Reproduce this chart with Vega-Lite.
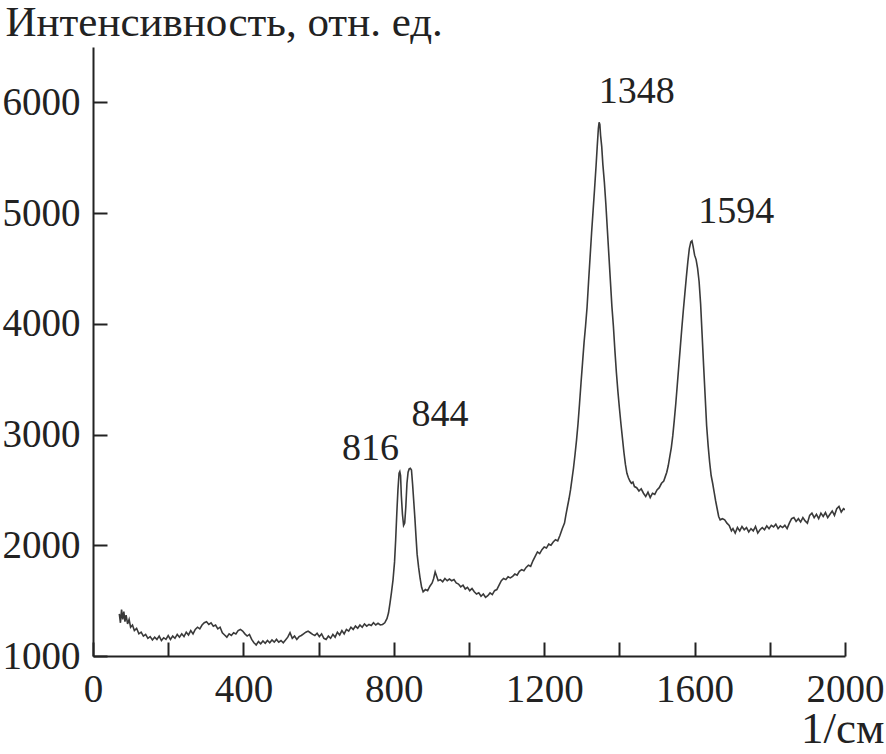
{
  "$schema": "https://vega.github.io/schema/vega-lite/v6.json",
  "width": 752,
  "height": 609,
  "autosize": {"type": "none"},
  "padding": {"left": 93, "top": 47, "right": 41, "bottom": 98},
  "background": "white",
  "config": {
    "view": {"stroke": null},
    "font": "Liberation Serif",
    "axis": {
      "grid": false,
      "domainColor": "#222",
      "domainWidth": 2,
      "tickColor": "#222",
      "tickWidth": 2,
      "tickSize": -14,
      "labelFont": "Liberation Serif",
      "labelFontSize": 39,
      "labelColor": "#222",
      "titleFont": "Liberation Serif",
      "titleFontWeight": "normal",
      "titleColor": "#222"
    }
  },
  "datasets": {
    "spectrum": [
      {"x":70,"y":1380},{"x":73,"y":1300},{"x":76,"y":1420},{"x":79,"y":1330},{"x":82,"y":1400},{"x":85,"y":1310},{"x":88,"y":1370},{"x":92,"y":1290},{"x":96,"y":1330},{"x":100,"y":1260},
      {"x":105,"y":1280},{"x":110,"y":1230},{"x":116,"y":1250},{"x":122,"y":1200},{"x":128,"y":1215},{"x":134,"y":1180},{"x":140,"y":1195},{"x":146,"y":1160},{"x":152,"y":1175},{"x":158,"y":1145},
      {"x":164,"y":1170},{"x":170,"y":1150},{"x":176,"y":1180},{"x":182,"y":1140},{"x":188,"y":1165},{"x":194,"y":1150},{"x":200,"y":1185},{"x":206,"y":1150},{"x":212,"y":1180},{"x":218,"y":1160},
      {"x":224,"y":1195},{"x":230,"y":1170},{"x":236,"y":1200},{"x":242,"y":1175},{"x":248,"y":1215},{"x":254,"y":1190},{"x":260,"y":1230},{"x":266,"y":1200},{"x":272,"y":1240},{"x":278,"y":1260},
      {"x":284,"y":1245},{"x":290,"y":1280},{"x":296,"y":1300},{"x":302,"y":1310},{"x":308,"y":1285},{"x":314,"y":1300},{"x":320,"y":1270},{"x":326,"y":1280},{"x":332,"y":1245},{"x":338,"y":1260},
      {"x":344,"y":1210},{"x":350,"y":1190},{"x":356,"y":1170},{"x":362,"y":1200},{"x":368,"y":1185},{"x":374,"y":1210},{"x":380,"y":1200},{"x":386,"y":1230},{"x":392,"y":1240},{"x":398,"y":1225},
      {"x":404,"y":1200},{"x":410,"y":1180},{"x":416,"y":1195},{"x":422,"y":1150},{"x":428,"y":1120},{"x":434,"y":1100},{"x":440,"y":1130},{"x":446,"y":1110},{"x":452,"y":1135},{"x":458,"y":1115},
      {"x":464,"y":1140},{"x":470,"y":1120},{"x":476,"y":1145},{"x":482,"y":1125},{"x":488,"y":1150},{"x":494,"y":1125},{"x":500,"y":1140},{"x":506,"y":1120},{"x":512,"y":1145},{"x":518,"y":1170},
      {"x":524,"y":1210},{"x":530,"y":1160},{"x":536,"y":1180},{"x":542,"y":1150},{"x":548,"y":1175},{"x":554,"y":1185},{"x":560,"y":1200},{"x":566,"y":1215},{"x":572,"y":1225},{"x":578,"y":1210},
      {"x":584,"y":1195},{"x":590,"y":1185},{"x":596,"y":1205},{"x":602,"y":1175},{"x":608,"y":1200},{"x":614,"y":1160},{"x":620,"y":1150},{"x":626,"y":1180},{"x":632,"y":1160},{"x":638,"y":1195},
      {"x":644,"y":1170},{"x":650,"y":1215},{"x":656,"y":1190},{"x":662,"y":1230},{"x":668,"y":1200},{"x":674,"y":1240},{"x":680,"y":1225},{"x":686,"y":1260},{"x":692,"y":1240},{"x":698,"y":1270},
      {"x":704,"y":1250},{"x":710,"y":1280},{"x":716,"y":1260},{"x":722,"y":1290},{"x":728,"y":1270},{"x":734,"y":1285},{"x":740,"y":1275},{"x":746,"y":1300},{"x":752,"y":1280},{"x":758,"y":1295},
      {"x":764,"y":1280},{"x":770,"y":1285},{"x":776,"y":1300},{"x":782,"y":1340},{"x":786,"y":1390},{"x":790,"y":1480},{"x":794,"y":1580},{"x":798,"y":1690},{"x":802,"y":1850},{"x":805,"y":2050},
      {"x":808,"y":2290},{"x":811,"y":2500},{"x":814,"y":2650},{"x":816,"y":2665},{"x":818,"y":2630},{"x":820,"y":2450},{"x":823,"y":2280},{"x":826,"y":2180},{"x":829,"y":2200},{"x":832,"y":2350},
      {"x":835,"y":2560},{"x":838,"y":2660},{"x":841,"y":2690},{"x":844,"y":2695},{"x":847,"y":2680},{"x":850,"y":2550},{"x":853,"y":2400},{"x":856,"y":2250},{"x":859,"y":2080},{"x":862,"y":1920},
      {"x":866,"y":1800},{"x":870,"y":1700},{"x":874,"y":1620},{"x":878,"y":1580},{"x":884,"y":1600},{"x":890,"y":1590},{"x":896,"y":1630},{"x":902,"y":1660},{"x":906,"y":1700},{"x":910,"y":1760},
      {"x":914,"y":1720},{"x":918,"y":1680},{"x":924,"y":1690},{"x":930,"y":1670},{"x":936,"y":1700},{"x":942,"y":1680},{"x":948,"y":1695},{"x":954,"y":1680},{"x":960,"y":1690},{"x":966,"y":1660},
      {"x":972,"y":1650},{"x":978,"y":1625},{"x":984,"y":1640},{"x":990,"y":1605},{"x":996,"y":1620},{"x":1002,"y":1590},{"x":1008,"y":1610},{"x":1014,"y":1580},{"x":1020,"y":1560},{"x":1026,"y":1570},
      {"x":1032,"y":1540},{"x":1038,"y":1560},{"x":1044,"y":1530},{"x":1050,"y":1545},{"x":1056,"y":1570},{"x":1062,"y":1555},{"x":1068,"y":1590},{"x":1074,"y":1600},{"x":1080,"y":1640},{"x":1086,"y":1680},
      {"x":1092,"y":1700},{"x":1098,"y":1690},{"x":1104,"y":1715},{"x":1110,"y":1705},{"x":1116,"y":1720},{"x":1122,"y":1740},{"x":1128,"y":1730},{"x":1134,"y":1765},{"x":1140,"y":1780},{"x":1146,"y":1770},
      {"x":1152,"y":1800},{"x":1158,"y":1820},{"x":1164,"y":1810},{"x":1170,"y":1860},{"x":1176,"y":1900},{"x":1182,"y":1940},{"x":1188,"y":1925},{"x":1194,"y":1960},{"x":1200,"y":1985},{"x":1206,"y":1975},
      {"x":1212,"y":2010},{"x":1218,"y":2000},{"x":1224,"y":2030},{"x":1230,"y":2050},{"x":1236,"y":2040},{"x":1242,"y":2090},{"x":1248,"y":2150},{"x":1254,"y":2200},{"x":1258,"y":2280},{"x":1262,"y":2350},
      {"x":1266,"y":2420},{"x":1270,"y":2500},{"x":1274,"y":2600},{"x":1278,"y":2700},{"x":1282,"y":2820},{"x":1286,"y":2950},{"x":1290,"y":3100},{"x":1294,"y":3280},{"x":1298,"y":3470},{"x":1302,"y":3650},
      {"x":1306,"y":3830},{"x":1310,"y":3980},{"x":1314,"y":4150},{"x":1318,"y":4380},{"x":1322,"y":4600},{"x":1326,"y":4820},{"x":1330,"y":5020},{"x":1334,"y":5220},{"x":1338,"y":5430},{"x":1341,"y":5600},
      {"x":1344,"y":5760},{"x":1346,"y":5820},{"x":1348,"y":5800},{"x":1350,"y":5700},{"x":1353,"y":5600},{"x":1356,"y":5440},{"x":1360,"y":5280},{"x":1364,"y":5080},{"x":1368,"y":4850},{"x":1372,"y":4620},
      {"x":1376,"y":4390},{"x":1380,"y":4160},{"x":1384,"y":3980},{"x":1388,"y":3760},{"x":1392,"y":3560},{"x":1396,"y":3390},{"x":1400,"y":3240},{"x":1404,"y":3100},{"x":1408,"y":2970},{"x":1412,"y":2840},
      {"x":1416,"y":2730},{"x":1420,"y":2650},{"x":1424,"y":2610},{"x":1428,"y":2580},{"x":1432,"y":2560},{"x":1436,"y":2570},{"x":1440,"y":2530},{"x":1446,"y":2520},{"x":1452,"y":2490},{"x":1458,"y":2510},
      {"x":1464,"y":2470},{"x":1470,"y":2440},{"x":1476,"y":2480},{"x":1482,"y":2430},{"x":1488,"y":2470},{"x":1494,"y":2460},{"x":1500,"y":2500},{"x":1506,"y":2520},{"x":1512,"y":2560},{"x":1518,"y":2580},
      {"x":1522,"y":2620},{"x":1526,"y":2660},{"x":1530,"y":2720},{"x":1534,"y":2800},{"x":1538,"y":2880},{"x":1542,"y":2990},{"x":1546,"y":3130},{"x":1550,"y":3280},{"x":1554,"y":3450},{"x":1558,"y":3620},
      {"x":1562,"y":3790},{"x":1566,"y":3960},{"x":1570,"y":4120},{"x":1574,"y":4270},{"x":1578,"y":4420},{"x":1582,"y":4560},{"x":1586,"y":4680},{"x":1590,"y":4740},{"x":1593,"y":4750},{"x":1596,"y":4700},
      {"x":1600,"y":4620},{"x":1604,"y":4580},{"x":1608,"y":4500},{"x":1612,"y":4380},{"x":1616,"y":4180},{"x":1620,"y":3900},{"x":1624,"y":3620},{"x":1628,"y":3350},{"x":1632,"y":3080},{"x":1636,"y":2900},
      {"x":1640,"y":2750},{"x":1644,"y":2630},{"x":1648,"y":2560},{"x":1652,"y":2480},{"x":1656,"y":2400},{"x":1660,"y":2330},{"x":1664,"y":2260},{"x":1668,"y":2230},{"x":1674,"y":2240},{"x":1680,"y":2230},
      {"x":1686,"y":2200},{"x":1692,"y":2180},{"x":1698,"y":2130},{"x":1702,"y":2150},{"x":1708,"y":2110},{"x":1714,"y":2160},{"x":1720,"y":2130},{"x":1726,"y":2170},{"x":1732,"y":2140},{"x":1738,"y":2160},
      {"x":1744,"y":2120},{"x":1750,"y":2150},{"x":1756,"y":2130},{"x":1762,"y":2170},{"x":1768,"y":2110},{"x":1774,"y":2140},{"x":1780,"y":2160},{"x":1786,"y":2140},{"x":1792,"y":2175},{"x":1798,"y":2150},
      {"x":1804,"y":2180},{"x":1810,"y":2165},{"x":1816,"y":2190},{"x":1822,"y":2150},{"x":1828,"y":2175},{"x":1834,"y":2160},{"x":1840,"y":2180},{"x":1846,"y":2150},{"x":1852,"y":2200},{"x":1858,"y":2240},
      {"x":1864,"y":2250},{"x":1870,"y":2215},{"x":1876,"y":2240},{"x":1882,"y":2210},{"x":1888,"y":2250},{"x":1894,"y":2220},{"x":1900,"y":2200},{"x":1906,"y":2270},{"x":1912,"y":2290},{"x":1918,"y":2250},
      {"x":1924,"y":2280},{"x":1930,"y":2240},{"x":1936,"y":2290},{"x":1942,"y":2260},{"x":1948,"y":2295},{"x":1954,"y":2250},{"x":1960,"y":2280},{"x":1966,"y":2310},{"x":1972,"y":2270},{"x":1978,"y":2330},
      {"x":1984,"y":2350},{"x":1990,"y":2300},{"x":1996,"y":2330},{"x":2000,"y":2320}
    ],
    "peaks": [
      {"x": 738, "y": 2774, "label": "816"},
      {"x": 923, "y": 3075, "label": "844"},
      {"x": 1446, "y": 5990, "label": "1348"},
      {"x": 1711, "y": 4915, "label": "1594"}
    ]
  },
  "layer": [
    {
      "data": {"name": "spectrum"},
      "mark": {"type": "line", "stroke": "#3a3a3a", "strokeWidth": 1.6, "clip": true},
      "encoding": {
        "x": {
          "field": "x", "type": "quantitative",
          "scale": {"domain": [0, 2000], "nice": false, "zero": false},
          "axis": {
            "values": [0, 200, 400, 600, 800, 1000, 1200, 1400, 1600, 1800, 2000],
            "labelExpr": "datum.value % 400 === 0 ? datum.label : ''",
            "format": "d",
            "labelPadding": 28,
            "labelFlush": false,
            "title": "1/см",
            "titleFontSize": 45,
            "titleAlign": "right",
            "titleBaseline": "alphabetic",
            "titleAnchor": "end",
            "titleX": 791,
            "titleY": 86
          }
        },
        "y": {
          "field": "y", "type": "quantitative",
          "scale": {"domain": [1000, 6500], "nice": false, "zero": false},
          "axis": {
            "values": [1000, 2000, 3000, 4000, 5000, 6000],
            "format": "d",
            "labelPadding": 27,
            "labelFlush": false,
            "title": "Интенсивность, отн. ед.",
            "titleFontSize": 43,
            "titleAngle": 0,
            "titleAlign": "left",
            "titleBaseline": "alphabetic",
            "titleX": -88,
            "titleY": -12
          }
        }
      }
    },
    {
      "data": {"name": "peaks"},
      "mark": {"type": "text", "font": "Liberation Serif", "fontSize": 38, "align": "center", "baseline": "alphabetic", "color": "#222"},
      "encoding": {
        "x": {"field": "x", "type": "quantitative"},
        "y": {"field": "y", "type": "quantitative"},
        "text": {"field": "label"}
      }
    }
  ]
}
